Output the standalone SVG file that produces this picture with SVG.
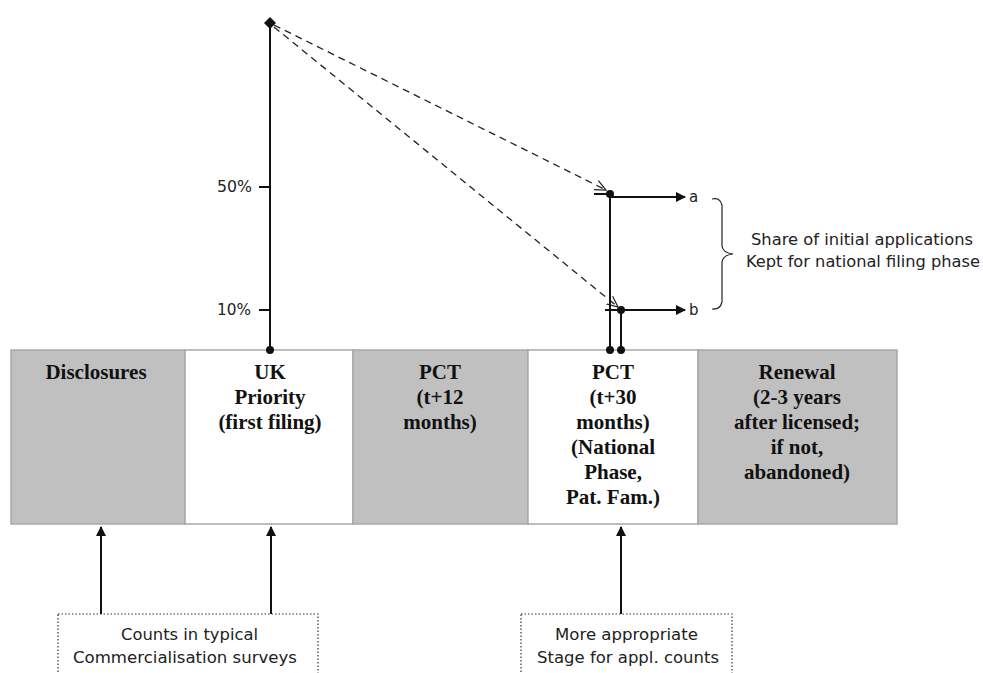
<svg xmlns="http://www.w3.org/2000/svg" width="983" height="673" viewBox="0 0 983 673">
<defs>
<style>
.cell{stroke:#a8a8a8;stroke-width:1.5}
.g{fill:#c0c0c0}
.w{fill:#ffffff}
.bt{font-family:"Liberation Serif",serif;font-weight:bold;font-size:21px;fill:#111;text-anchor:middle}
.st{font-family:"DejaVu Sans","Liberation Sans",sans-serif;font-size:15px;fill:#222}
.ln{stroke:#111;stroke-width:2;fill:none}
.ds{stroke:#222;stroke-width:1.3;fill:none;stroke-dasharray:7,5}
.box{fill:#fff;stroke:#333;stroke-width:1.2;stroke-dasharray:1.5,2}
</style>
<marker id="fa" markerWidth="10" markerHeight="10" refX="9" refY="5" orient="auto" markerUnits="userSpaceOnUse">
<path d="M0,0 L10,5 L0,10 Z" fill="#111"/>
</marker>
<marker id="oa" markerWidth="12" markerHeight="12" refX="11" refY="6" orient="auto" markerUnits="userSpaceOnUse">
<path d="M0,1 L11,6 L0,11" fill="none" stroke="#222" stroke-width="1.2"/>
</marker>
</defs>
<rect width="983" height="673" fill="#fff"/>

<g id="band">
<g id="disclosures"><rect class="cell g" x="11" y="350" width="174" height="174"/><text class="bt" x="96" y="379">Disclosures</text></g>
<g id="uk-priority"><rect class="cell w" x="185" y="350" width="168" height="174"/><text class="bt" x="270" y="379">UK</text><text class="bt" x="270" y="404">Priority</text><text class="bt" x="270" y="429">(first filing)</text></g>
<g id="pct12"><rect class="cell g" x="353" y="350" width="175" height="174"/><text class="bt" x="440" y="379">PCT</text><text class="bt" x="440" y="404">(t+12</text><text class="bt" x="440" y="429">months)</text></g>
<g id="pct30"><rect class="cell w" x="528" y="350" width="170" height="174"/><text class="bt" x="613" y="379">PCT</text><text class="bt" x="613" y="404">(t+30</text><text class="bt" x="613" y="429">months)</text><text class="bt" x="613" y="454">(National</text><text class="bt" x="613" y="479">Phase,</text><text class="bt" x="613" y="504">Pat. Fam.)</text></g>
<g id="renewal"><rect class="cell g" x="698" y="350" width="199" height="174"/><text class="bt" x="797" y="379">Renewal</text><text class="bt" x="797" y="404">(2-3 years</text><text class="bt" x="797" y="429">after licensed;</text><text class="bt" x="797" y="454">if not,</text><text class="bt" x="797" y="479">abandoned)</text></g>
</g>

<g id="scale">
<text class="st" x="217" y="192" textLength="35" lengthAdjust="spacingAndGlyphs">50%</text>
<text class="st" x="217" y="315" textLength="34" lengthAdjust="spacingAndGlyphs">10%</text>
<path class="ln" d="M259,187 H270 M259,310 H270" stroke-width="1.5"/>
</g>

<g id="point-a"><path class="ln" d="M594,194 H610" stroke-width="1.5"/><circle cx="610" cy="194" r="4" fill="#111"/><text class="st" x="689" y="202">a</text></g>
<g id="point-b"><path class="ln" d="M605,310 H621" stroke-width="1.5"/><circle cx="621" cy="310" r="4" fill="#111"/><text class="st" x="689" y="315">b</text></g>

<g id="share-note">
<path d="M712,199 Q720,197 722,205 L722,246 Q723,253 733,254 Q723,255 722,262 L722,302 Q720,310 712,309" fill="none" stroke="#222" stroke-width="1.2"/>
<text class="st" x="751" y="245" textLength="222" lengthAdjust="spacingAndGlyphs">Share of initial applications</text>
<text class="st" x="746" y="267" textLength="234" lengthAdjust="spacingAndGlyphs">Kept for national filing phase</text>
</g>

<g id="note-left"><rect class="box" x="58" y="614" width="260" height="70"/><text class="st" x="121" y="640" textLength="137" lengthAdjust="spacingAndGlyphs">Counts in typical</text><text class="st" x="73" y="663" textLength="224" lengthAdjust="spacingAndGlyphs">Commercialisation surveys</text></g>
<g id="note-right"><rect class="box" x="521" y="614" width="211" height="70"/><text class="st" x="555" y="640" textLength="143" lengthAdjust="spacingAndGlyphs">More appropriate</text><text class="st" x="537" y="663" textLength="182" lengthAdjust="spacingAndGlyphs">Stage for appl. counts</text></g>

<g id="connectors">
<path class="ln" d="M270,23 V350"/>
<path d="M270,17 L276,23 L270,29 L264,23 Z" fill="#111"/>
<circle cx="270" cy="350" r="4" fill="#111"/>
<path class="ds" d="M274,25 L606,190" marker-end="url(#oa)"/>
<path class="ds" d="M274,27 L618,307" marker-end="url(#oa)"/>
<path class="ln" d="M610,194 V350"/>
<path class="ln" d="M621,310 V350"/>
<circle cx="610" cy="350" r="4" fill="#111"/>
<circle cx="621" cy="350" r="4" fill="#111"/>
<path class="ln" d="M610,197 H685" marker-end="url(#fa)"/>
<path class="ln" d="M621,310 H685" marker-end="url(#fa)"/>
<path class="ln" d="M101,614 V527" marker-end="url(#fa)"/>
<path class="ln" d="M271,614 V527" marker-end="url(#fa)"/>
<path class="ln" d="M621,614 V527" marker-end="url(#fa)"/>
</g>
</svg>
